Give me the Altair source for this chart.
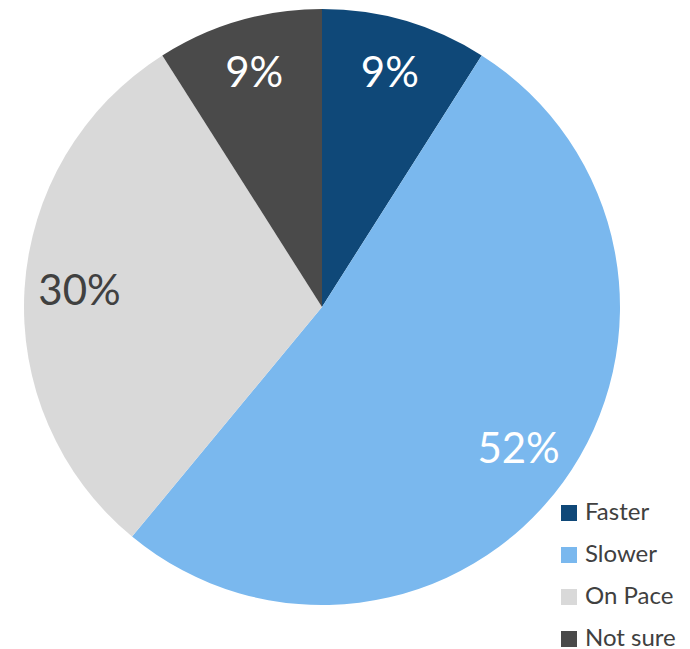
import altair as alt
import pandas as pd

categories = ["Faster", "Slower", "On Pace", "Not sure"]
values = [9, 52, 30, 9]
labels = ["9%", "52%", "30%", "9%"]
colors = ["#0F4878", "#7AB8EE", "#D9D9D9", "#4A4A4A"]
label_colors = ["#FFFFFF", "#FFFFFF", "#404040", "#FFFFFF"]

df = pd.DataFrame({
    "category": categories,
    "value": values,
    "label": labels,
    "order": list(range(len(categories))),
    "lc": label_colors,
})

base = alt.Chart(df).encode(
    theta=alt.Theta("value:Q", stack=True),
    order=alt.Order("order:Q"),
)

pie = base.mark_arc(outerRadius=298).encode(
    color=alt.Color(
        "category:N",
        scale=alt.Scale(domain=categories, range=colors),
        sort=categories,
        legend=alt.Legend(
            title=None,
            orient="none",
            legendX=557,
            legendY=501,
            symbolType="square",
            symbolSize=256,
            symbolStrokeWidth=0,
            labelFontSize=24,
            labelFont="Lato",
            labelColor="#404040",
            rowPadding=18,
            labelOffset=4,
            labelLimit=200,
        ),
    )
)

text = base.mark_text(radius=243, font="Lato", fontSize=42).encode(
    text="label:N",
    color=alt.Color("lc:N", scale=None, legend=None),
)

chart = (
    alt.layer(pie, text)
    .resolve_scale(color="independent")
    .properties(
        width=644,
        height=614,
        autosize="none",
        padding={"left": 0, "top": 0, "right": 46, "bottom": 35},
        background="white",
    )
    .configure_view(stroke=None)
)

chart.save("out.html", embed_options={"renderer": "svg", "actions": False})
